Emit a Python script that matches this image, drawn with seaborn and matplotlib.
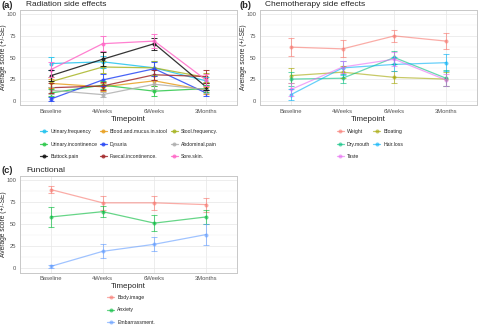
import numpy as np
import pandas as pd
import matplotlib
matplotlib.use("Agg")
import matplotlib.pyplot as plt
import seaborn as sns
from matplotlib.lines import Line2D

# ---------------- data ----------------
timepoints = ["Baseline", "4Weeks", "6Weeks", "3Months"]

rad_series = ["Urinary.frequency", "Blood.and.mucus.in.stool", "Stool.frequency.",
              "Urinary.incontinence", "Dysuria", "Abdominal.pain",
              "Buttock.pain", "Faecal.incontinence.", "Sore.skin."]
rad_mean = [[43, 45, 38, 23],
            [20, 16, 23, 12],
            [22, 39, 38, 27],
            [9, 18, 11, 14],
            [2, 24, 37, 9],
            [12, 7, 19, 13],
            [29, 48, 66, 16],
            [15, 17, 30, 28],
            [36, 66, 69, 24]]
rad_se = [[7, 7, 8, 5],
          [5, 5, 6, 4],
          [6, 7, 8, 5],
          [4, 5, 6, 4],
          [2, 7, 8, 3],
          [4, 3, 5, 4],
          [6, 8, 7, 4],
          [6, 5, 6, 8],
          [9, 9, 8, 7]]
rad_colors = ["#22C3EE", "#E8A020", "#A8B526", "#2CC84A", "#2848F5",
              "#AFAFAF", "#111111", "#A3282A", "#FF6AC8"]

chemo_series = ["Weight", "Bloating", "Dry.mouth", "Hair.loss", "Taste"]
chemo_mean = [[62, 60, 75, 69],
              [29, 33, 27, 25],
              [25, 26, 50, 26],
              [7, 38, 42, 44],
              [13, 39, 48, 24]]
chemo_se = [[10, 10, 7, 9],
            [9, 7, 7, 8],
            [8, 5, 8, 9],
            [6, 8, 8, 10],
            [7, 7, 8, 7]]
chemo_colors = ["#F8766D", "#A3A500", "#00BF7D", "#00B0F6", "#E76BF3"]

func_series = ["Body.image", "Anxiety", "Embarrassment."]
func_mean = [[89, 74, 74, 72],
             [58, 64, 51, 58],
             [2, 19, 27, 38]]
func_se = [[4, 8, 8, 8],
           [11, 6, 9, 8],
           [2, 8, 8, 12]]
func_colors = ["#F8766D", "#00BA38", "#619CFF"]

# ---------------- style ----------------
sns.set_theme(style="white")
plt.rcParams["font.family"] = ["Liberation Sans", "DejaVu Sans"]

W, H = 480, 325
fig = plt.figure(figsize=(W / 100, H / 100), dpi=100)


def box(l, t, r, b):
    return [l / W, 1 - b / H, (r - l) / W, (b - t) / H]


def panel(ax, names, means, ses, colors, alpha, left_px):
    rows = []
    for n, m in zip(names, means):
        for tp, v in zip(timepoints, m):
            rows.append({"Timepoint": tp, "score": v, "series": n})
    df = pd.DataFrame(rows)
    pal = dict(zip(names, colors))
    sns.lineplot(data=df, x="Timepoint", y="score", hue="series", hue_order=names,
                 palette=pal, marker="o", markersize=2.9, markeredgewidth=0,
                 linewidth=0.9, alpha=alpha, legend=False, sort=False, ax=ax)
    for n, m, s, c in zip(names, means, ses, colors):
        ax.errorbar(timepoints, m, yerr=s, fmt="none", ecolor=c, elinewidth=0.75,
                    capsize=1.9, capthick=0.75, alpha=alpha, zorder=3)
    ax.set_xlim(-0.6, 3.6)
    ax.set_ylim(-5, 105)
    ax.set_yticks([0, 25, 50, 75, 100])
    ax.set_yticks([12.5, 37.5, 62.5, 87.5], minor=True)
    ax.grid(True, which="major", color="#E6E6E6", linewidth=0.5)
    ax.grid(True, which="minor", axis="y", color="#F2F2F2", linewidth=0.35)
    ax.set_axisbelow(True)
    for sp in ax.spines.values():
        sp.set_color("#C8C8C8")
        sp.set_linewidth(0.7)
    ax.tick_params(axis="both", which="major", labelsize=4.2, colors="#555555",
                   length=1.5, width=0.4, pad=1.3)
    ax.tick_params(axis="both", which="minor", length=0)
    ax.set_xlabel("Timepoint", fontsize=5.8, labelpad=1.2)
    ax.set_ylabel("Average score (+/-SE)", fontsize=4.8)
    ax.yaxis.set_label_coords(-(left_px - 7.0) / 217, 0.5)


def legend(ax, names, colors, ncol, order, center, alpha):
    handles = [Line2D([0], [0], color=colors[i], lw=0.9, marker="o",
                      markersize=2.9, markeredgewidth=0, alpha=alpha) for i in order]
    labels = [names[i] for i in order]
    fig.legend(handles, labels, ncol=ncol, loc="center",
               bbox_to_anchor=(center[0] / W, 1 - center[1] / H),
               frameon=False, fontsize=3.7, handlelength=1.4, handletextpad=0.6,
               columnspacing=0.5, labelspacing=1.45, borderpad=0)


ax_a = fig.add_axes(box(20, 10, 237, 105))
panel(ax_a, rad_series, rad_mean, rad_se, rad_colors, 0.85, 20)
legend(ax_a, rad_series, rad_colors, 3, [0, 3, 6, 1, 4, 7, 2, 5, 8], (129, 144), 0.85)

ax_b = fig.add_axes(box(260, 10, 477, 105))
panel(ax_b, chemo_series, chemo_mean, chemo_se, chemo_colors, 0.6, 20)
legend(ax_b, chemo_series, chemo_colors, 2, [0, 2, 4, 1, 3], (370, 144), 0.6)

ax_c = fig.add_axes(box(20, 175.5, 237, 272.5))
panel(ax_c, func_series, func_mean, func_se, func_colors, 0.6, 20)
legend(ax_c, func_series, func_colors, 1, [0, 1, 2], (131, 310), 0.6)

# titles
fig.text(1 / W, 1 - 5 / H, "(a)", fontsize=6.8, fontweight="bold", va="center")
fig.text(26 / W, 1 - 5 / H, "Radiation side effects", fontsize=6.0, va="center")
fig.text(240 / W, 1 - 5 / H, "(b)", fontsize=6.8, fontweight="bold", va="center")
fig.text(265 / W, 1 - 5 / H, "Chemotherapy side effects", fontsize=6.0, va="center")
fig.text(1 / W, 1 - 170.5 / H, "(c)", fontsize=6.8, fontweight="bold", va="center")
fig.text(26 / W, 1 - 170.5 / H, "Functional", fontsize=6.0, va="center")

fig.savefig("out.png", dpi=100)
